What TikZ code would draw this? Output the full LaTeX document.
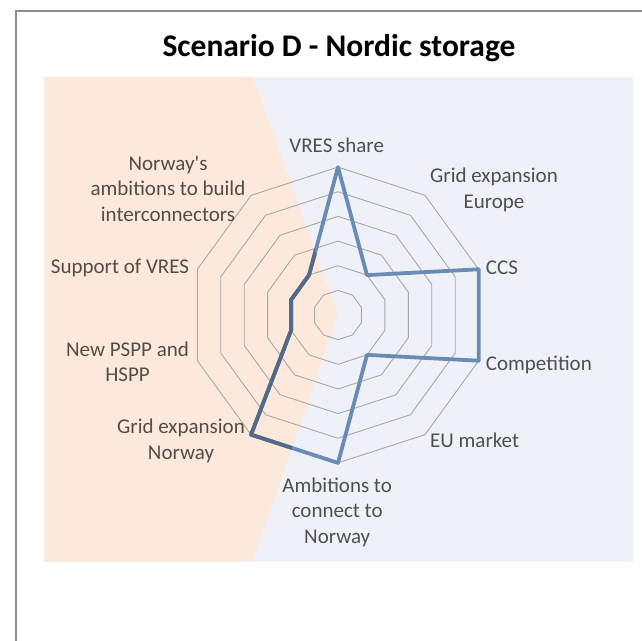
\documentclass[tikz,border=0pt]{standalone}
\usepackage{fontspec}
\setmainfont{Carlito}
\definecolor{peach}{HTML}{FCE9DC}
\definecolor{paleblue}{HTML}{EEF2F8}
\definecolor{ringgray}{HTML}{A8A8A8}
\definecolor{seriesblue}{HTML}{6A8BB5}
\definecolor{seriesdark}{HTML}{52698A}
\definecolor{framegray}{HTML}{8C8C8C}

\begin{document}
\begin{tikzpicture}[
        x=1pt, y=1pt,
        ring/.style={draw=ringgray, line width=0.9pt},
        series/.style={line width=3.8pt, line join=round},
        axislabel/.style={font=\fontsize{21}{25.5}\selectfont, text=black, text opacity=0.67, align=center, inner sep=0pt},
        charttitle/.style={font=\fontsize{31.5}{36}\selectfont\bfseries, inner sep=0pt}
        ]
        \useasboundingbox (0,0) rectangle (642,-640);
        \fill[white] (0,0) rectangle (642,-640);
        \coordinate (pk1) at (44.3,-76.7);
        \coordinate (pk2) at (252.7,-76.7);
        \coordinate (pk3) at (338,-315);
        \coordinate (pk4) at (252.7,-561.7);
        \coordinate (pk5) at (44.3,-561.7);
        \fill[paleblue] (pk1) rectangle (633.3,-561.7);
        \fill[peach] (pk1) -- (pk2) -- (pk3) -- (pk4) -- (pk5) -- cycle;
        \draw[framegray, line width=2pt] (16,-660) -- (16,-11) -- (660,-11);
        \node[charttitle, anchor=base] (title) at (339,-56.7) {Scenario D - Nordic storage};
        \begin{scope}[shift={(338,-315)}]
            \foreach \k in {1,...,6} {
                \draw[ring] (90:{\k*24.65}) \foreach \i in {1,...,9} { -- ({90-36*\i}:{\k*24.65}) } -- cycle;
            }
            \foreach \v [count=\i from 0] in {6,2,6,6,2,6,6,2,2,2} {
                \coordinate (d\i) at ({90-36*\i}:{\v*24.65});
            }
        \end{scope}
        \draw[series, draw=seriesblue] (d0) \foreach \i in {1,...,9} { -- (d\i) } -- cycle;
        \begin{scope}
            \clip (pk1) -- (pk2) -- (pk3) -- (pk4) -- (pk5) -- cycle;
            \draw[series, draw=seriesdark] (d0) \foreach \i in {1,...,9} { -- (d\i) } -- cycle;
        \end{scope}
        \node[axislabel, anchor=base] (vres) at (336.7,-152.7) {VRES share};
        \node[axislabel, anchor=base] (grideu) at (494,-208.3) {Grid expansion\\Europe};
        \node[axislabel, anchor=base west] (ccs) at (485.7,-274) {CCS};
        \node[axislabel, anchor=base west] (comp) at (485.7,-370.7) {Competition};
        \node[axislabel, anchor=base west] (eumkt) at (430,-447.3) {EU market};
        \node[axislabel, anchor=base] (connect) at (337.2,-543.3) {Ambitions to\\connect to\\Norway};
        \node[axislabel, anchor=base] (gridno) at (181,-459.3) {Grid expansion\\Norway};
        \node[axislabel, anchor=base] (pspp) at (127.5,-381.7) {New PSPP and\\HSPP};
        \node[axislabel, anchor=base east] (support) at (189.3,-273.3) {Support of VRES};
        \node[axislabel, anchor=base] (interconn) at (168,-221) {Norway\textquotesingle s\\ambitions to build\\interconnectors};
\end{tikzpicture}
\end{document}
